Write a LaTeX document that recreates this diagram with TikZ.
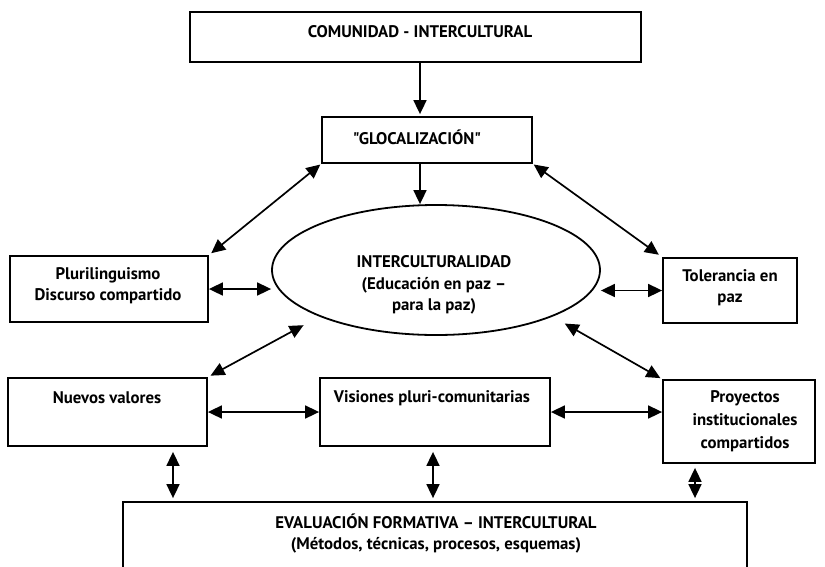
\documentclass[tikz,border=0pt]{standalone}
\usepackage{fontspec}
\setmainfont{PT Sans}[Ligatures=TeXOff]
\usetikzlibrary{arrows.meta,shapes.geometric,calc}
\begin{document}
\begin{tikzpicture}[x=1pt,y=-1pt,
  box/.style={draw, line width=1.8pt, rectangle, inner sep=0pt},
  lbl/.style={font=\bfseries\fontsize{16.8}{21.5}\selectfont, align=center, inner sep=0pt},
  arr/.style={line width=1.7pt, -{Triangle[length=14pt,width=13pt]}},
  darr/.style={line width=1.7pt, {Triangle[length=14pt,width=13pt]}-{Triangle[length=14pt,width=13pt]}}]
\useasboundingbox (0,0) rectangle (825,566);
\clip (0,0) rectangle (825,566);
% boxes
\node[box, minimum width=451pt, minimum height=50pt] (com) at (415.5,37) {};
\node[box, minimum width=210pt, minimum height=46pt] (gl) at (427,140) {};
\node[draw, line width=1.8pt, ellipse, inner sep=0pt, minimum width=328pt, minimum height=130pt] (el) at (436,270) {};
\node[box, minimum width=198pt, minimum height=66pt] (plu) at (109,289) {};
\node[box, minimum width=134pt, minimum height=65pt] (tol) at (730,290.5) {};
\node[box, minimum width=199pt, minimum height=68pt] (nv) at (107.5,412) {};
\node[box, minimum width=230pt, minimum height=68pt] (vi) at (435,412) {};
\node[box, minimum width=152pt, minimum height=83pt] (pr) at (739,421.5) {};
\node[box, minimum width=624pt, minimum height=90pt] (ev) at (435,547) {};
% texts
\node[lbl] (tcom) at (420,32) {COMUNIDAD - INTERCULTURAL};
\node[lbl] (tgl) at (417,137) {"GLOCALIZACIÓN"};
\node[lbl] (tel) at (434,285) {INTERCULTURALIDAD\\(Educación en paz –\\para la paz)};
\node[lbl] (tplu) at (108,285.5) {Plurilinguismo\\Discurso compartido};
\node[lbl] (ttol) at (730,287.5) {Tolerancia en\\paz};
\node[lbl] (tnv) at (107,398) {Nuevos valores};
\node[lbl] (tvi) at (432,398) {Visiones pluri-comunitarias};
\node[lbl, font=\bfseries\fontsize{16.8}{23}\selectfont] (tpr) at (745,421) {Proyectos\\institucionales\\compartidos};
\node[lbl] (tev) at (436,533.5) {EVALUACIÓN FORMATIVA – INTERCULTURAL\\(Métodos, técnicas, procesos, esquemas)};
% connectors
\draw[arr, shorten >=2pt] ([xshift=-7pt]gl.north |- com.south) -- ([xshift=-7pt]gl.north);
\draw[arr] ([xshift=-7pt]gl.south) -- ([xshift=-7pt]gl.south |- el.north);
\draw[darr, shorten <=1pt, shorten >=3pt] (gl.south west) -- (plu.north east);
\draw[darr, shorten <=1pt, shorten >=4pt] (gl.south east) -- (tol.north west);
\draw[darr] (plu.east) -- (plu.east -| el.west);
\draw[darr] (tol.west -| el.east) -- (tol.west);
\draw[darr, shorten <=18pt, shorten >=3pt] (el.south west) -- (nv.north east);
\draw[darr, shorten <=14pt, shorten >=2pt] (el.south east) -- (pr.north west);
\draw[darr] (nv.east) -- (vi.west);
\draw[darr] (vi.east) -- (vi.east -| pr.west);
\draw[darr, shorten <=5pt, shorten >=3pt] ([xshift=65.5pt]nv.south) -- ([xshift=65.5pt]nv.south |- ev.north);
\draw[darr, shorten <=5pt, shorten >=3pt] ([xshift=-2pt]vi.south) -- ([xshift=-2pt]vi.south |- ev.north);
\draw[darr, shorten <=4pt, shorten >=3pt] ([xshift=-44pt]pr.south) -- ([xshift=-44pt]pr.south |- ev.north);
\end{tikzpicture}
\end{document}
